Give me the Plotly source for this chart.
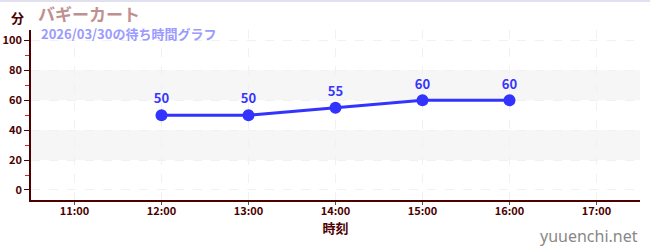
import plotly.graph_objects as go

times = ["2026-03-30 12:00", "2026-03-30 13:00", "2026-03-30 14:00", "2026-03-30 15:00", "2026-03-30 16:00"]
waits = [50, 50, 55, 60, 60]
tick_vals = ["2026-03-30 11:00", "2026-03-30 12:00", "2026-03-30 13:00", "2026-03-30 14:00",
             "2026-03-30 15:00", "2026-03-30 16:00", "2026-03-30 17:00"]
tick_text = ["11:00", "12:00", "13:00", "14:00", "15:00", "16:00", "17:00"]
title = "バギーカート"
subtitle = "2026/03/30の待ち時間グラフ"

FONT = "Noto Sans CJK JP"
DARK = "#4d0000"

fig = go.Figure()
fig.add_trace(go.Scatter(
    x=times, y=waits, mode="lines+markers+text",
    text=[str(v) for v in waits], textposition="top center",
    textfont=dict(family=FONT, size=13, color="#3535ff", weight="bold"),
    line=dict(color="#3333ff", width=3),
    marker=dict(color="#3333ff", size=12),
    cliponaxis=False, hoverinfo="skip",
))

for y0, y1 in [(20, 40), (60, 80)]:
    fig.add_shape(type="rect", xref="paper", yref="y", x0=0, x1=1, y0=y0, y1=y1,
                  fillcolor="#f6f6f6", line_width=0, layer="below")

fig.add_shape(type="line", xref="paper", yref="paper", x0=-0.1, x1=1.1, y0=1.17, y1=1.17,
              line=dict(color="#e0e0f0", width=2))

fig.update_layout(
    width=650, height=250,
    margin=dict(l=31, r=10, t=30, b=50, autoexpand=False),
    paper_bgcolor="white", plot_bgcolor="white",
    showlegend=False,
    font=dict(family=FONT, color=DARK),
    xaxis=dict(
        range=["2026-03-30 10:30", "2026-03-30 17:30"],
        tickmode="array", tickvals=tick_vals, ticktext=tick_text,
        tickfont=dict(size=11, color=DARK, weight="bold"),
        showgrid=True, gridcolor="#f1f1f1", griddash="dash", gridwidth=1,
        showline=True, linecolor=DARK, linewidth=1.5,
        ticks="outside", ticklen=3, tickcolor="#555555", ticklabelstandoff=-3,
        title=dict(text="時刻", font=dict(size=13, color=DARK, weight="bold"), standoff=6),
        zeroline=False, fixedrange=True, automargin=False,
    ),
    yaxis=dict(
        range=[-6.7, 107],
        tickmode="array", tickvals=[0, 20, 40, 60, 80, 100],
        tickfont=dict(size=11, color=DARK, weight="bold"),
        showgrid=True, gridcolor="#f1f1f1", griddash="dash", gridwidth=1,
        showline=True, linecolor=DARK, linewidth=1.5,
        ticks="outside", ticklen=5, tickcolor=DARK,
        minor=dict(tickvals=[10, 30, 50, 70, 90], ticks="outside", ticklen=4, tickcolor="#dd2222", showgrid=False),
        zeroline=False, fixedrange=True, automargin=False,
    ),
    annotations=[
        dict(text="分", xref="paper", yref="paper", x=-0.036, y=1.076, xanchor="left", yanchor="middle",
             showarrow=False, font=dict(size=13, color=DARK, weight="bold", family=FONT)),
        dict(text=title, xref="paper", yref="paper", x=0.008, y=1.095, xanchor="left", yanchor="middle",
             showarrow=False, font=dict(size=17, color="#c09090", weight="bold", family=FONT)),
        dict(text=subtitle, xref="paper", yref="paper", x=0.013, y=0.98, xanchor="left", yanchor="middle",
             showarrow=False, font=dict(size=13, color="#9a9aff", weight="bold", family=FONT)),
        dict(text="yuuenchi.net", xref="paper", yref="paper", x=1.0, y=-0.21, xanchor="right", yanchor="middle",
             showarrow=False, font=dict(size=16, color="#888888", family="Noto Sans")),
    ],
)

fig.write_html("out.html")
